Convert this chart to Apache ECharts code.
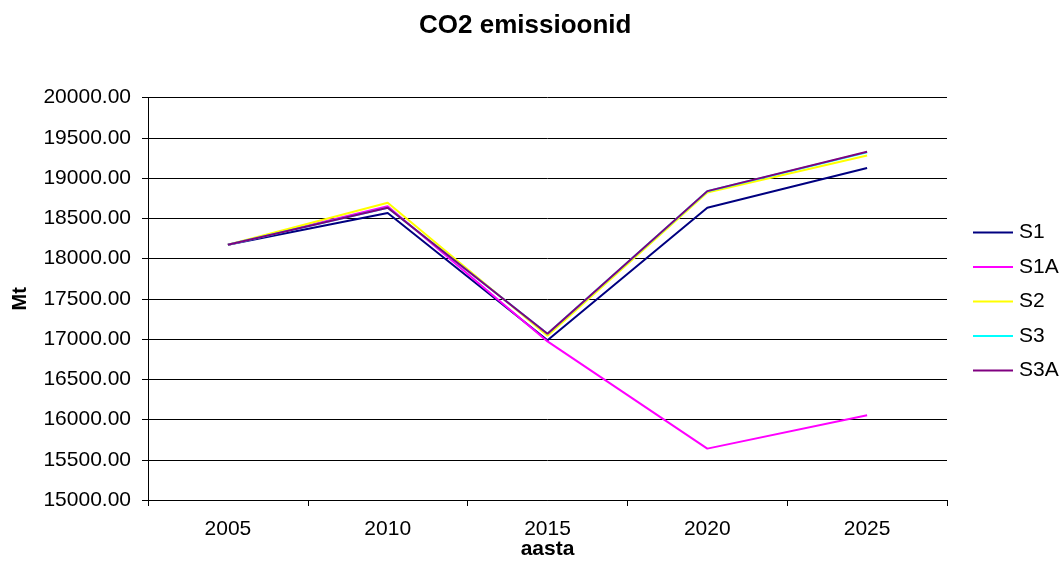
<!DOCTYPE html>
<html><head><meta charset="utf-8">
<script src="https://cdn.jsdelivr.net/npm/echarts@6/dist/echarts.min.js"></script>
<style>html,body{margin:0;padding:0;background:#fff}#c{width:1063px;height:580px}</style>
</head><body><div id="c"></div>
<script>
const years = ['2005','2010','2015','2020','2025'];
const S1  = [18170, 18565, 16985, 18630, 19125];
const S1A = [18170, 18650, 16970, 15638, 16052];
const S2  = [18170, 18692, 17040, 18820, 19280];
const S3  = [18170, 18630, 17066, 18835, 19320];
const S3A = [18170, 18630, 17066, 18837, 19325];
const names = ['S1','S1A','S2','S3','S3A'];
const colors = ['#000080','#FF00FF','#FFFF00','#00FFFF','#800080'];
const dataSets = [S1, S1A, S2, S3, S3A];

const chart = echarts.init(document.getElementById('c'));
const font = 'Liberation Sans, Arial, sans-serif';
chart.setOption({
  animation: false,
  title: {text: 'CO2 emissioonid', left: 419, top: 13, padding: 0,
    textStyle: {fontFamily: font, fontSize: 26, fontWeight: 'bold', color: '#000', lineHeight: 26}},
  legend: {orient: 'vertical', left: 973, top: 222, itemWidth: 40, itemHeight: 2, itemGap: 13.5,
    icon: 'rect', data: names, padding: 0,
    textStyle: {fontFamily: font, fontSize: 21, lineHeight: 21, color: '#000', padding: [0,0,0,1]}},
  grid: {left: 148, top: 97.5, width: 799, height: 402.5, containLabel: false},
  xAxis: {type: 'category', data: years, boundaryGap: true,
    name: 'aasta', nameLocation: 'middle', nameGap: 39, nameMoveOverlap: false,
    nameTextStyle: {fontFamily: font, fontSize: 21, fontWeight: 'bold', color: '#000'},
    axisLine: {lineStyle: {color: '#000', width: 1}},
    axisTick: {show: true, length: 6, lineStyle: {color: '#000'}},
    axisLabel: {fontFamily: font, fontSize: 21, color: '#000', margin: 19}},
  yAxis: {type: 'value', min: 15000, max: 20000, interval: 500,
    name: 'Mt', nameLocation: 'middle', nameGap: 118, nameRotate: 90, nameMoveOverlap: false,
    nameTextStyle: {fontFamily: font, fontSize: 20, fontWeight: 'bold', color: '#000'},
    axisLine: {show: true, lineStyle: {color: '#000', width: 1}},
    axisTick: {show: true, length: 6, lineStyle: {color: '#000'}},
    axisLabel: {fontFamily: font, fontSize: 21, color: '#000', margin: 17,
      formatter: v => v.toFixed(2)},
    splitLine: {show: true, lineStyle: {color: '#000', width: 1}}},
  series: dataSets.map((d, i) => ({
    name: names[i], type: 'line', data: d, symbol: 'none',
    lineStyle: {color: colors[i], width: 2}, itemStyle: {color: colors[i]}
  }))
});
</script></body></html>
